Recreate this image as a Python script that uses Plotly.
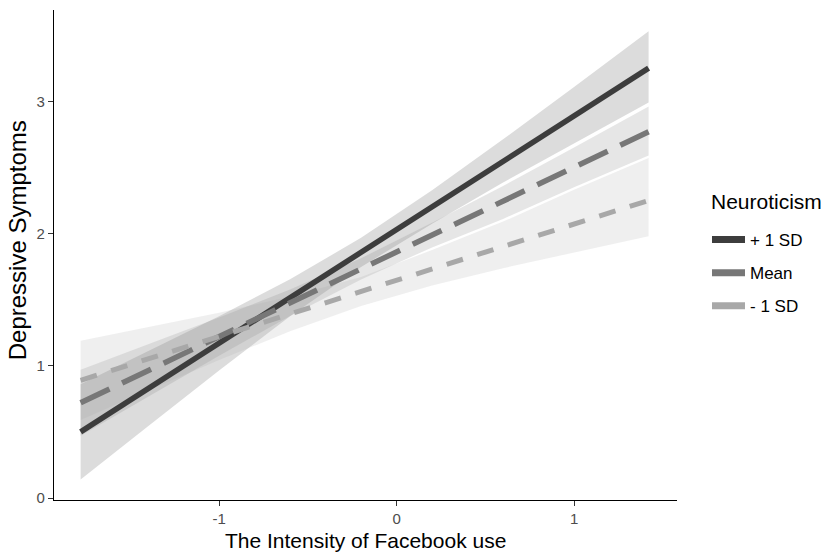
import plotly.graph_objects as go

# ---- data ----
groups = ["+ 1 SD", "Mean", "- 1 SD"]
x_pts = [-1.78, -1.4, -1.0, -0.6, -0.2, 0.2, 0.6, 1.0, 1.42]

fit_hi = [0.50, 0.826, 1.170, 1.514, 1.857, 2.201, 2.544, 2.888, 3.25]
low_hi = [0.14, 0.543, 0.965, 1.374, 1.747, 2.074, 2.385, 2.68, 2.99]
up_hi = [0.86, 1.109, 1.375, 1.654, 1.967, 2.328, 2.712, 3.108, 3.53]

fit_mean = [0.72, 0.964, 1.220, 1.476, 1.733, 1.989, 2.246, 2.502, 2.77]
low_mean = [0.47, 0.767, 1.076, 1.376, 1.653, 1.895, 2.11, 2.35, 2.59]
up_mean = [0.97, 1.161, 1.364, 1.576, 1.813, 2.081, 2.36, 2.65, 2.96]

fit_lo = [0.89, 1.052, 1.222, 1.392, 1.562, 1.732, 1.902, 2.072, 2.25]
low_lo = [0.59, 0.813, 1.043, 1.261, 1.452, 1.606, 1.738, 1.859, 1.98]
up_lo = [1.19, 1.291, 1.401, 1.523, 1.672, 1.875, 2.09, 2.33, 2.57]

x_ticks = [-1, 0, 1]
x_ticktext = ["-1", "0", "1"]
y_ticks = [0, 1, 2, 3]
y_ticktext = ["0", "1", "2", "3"]

x_title = "The Intensity of Facebook use"
y_title = "Depressive Symptoms"
legend_title = "Neuroticism"

# ---- styles ----
line_colors = ["#3d3d3d", "#777777", "#a8a8a8"]
fill_colors = ["rgba(61,61,61,0.18)", "rgba(119,119,119,0.18)", "rgba(168,168,168,0.18)"]
dashes = ["solid", "32px,14px", "17px,15px"]
widths = [5.5, 5.5, 5]

fits = [fit_hi, fit_mean, fit_lo]
lows = [low_hi, low_mean, low_lo]
ups = [up_hi, up_mean, up_lo]

fig = go.Figure()

# ribbons
for i in range(3):
    fig.add_trace(go.Scatter(
        x=x_pts + x_pts[::-1],
        y=ups[i] + lows[i][::-1],
        fill="toself", fillcolor=fill_colors[i],
        line=dict(width=0), mode="lines",
        hoverinfo="skip", showlegend=False,
    ))

# lines
for i in range(3):
    fig.add_trace(go.Scatter(
        x=x_pts, y=fits[i], mode="lines",
        line=dict(color=line_colors[i], width=widths[i], dash=dashes[i]),
        name=groups[i], showlegend=False,
    ))

# legend entries (solid keys)
for i in range(3):
    fig.add_trace(go.Scatter(
        x=[None], y=[None], mode="lines",
        line=dict(color=line_colors[i], width=7),
        name=groups[i], legendgroup=groups[i], showlegend=True,
    ))

font_family = "Liberation Sans, Arial, sans-serif"

fig.update_layout(
    width=825, height=553,
    margin=dict(l=54, r=148, t=10, b=53),
    paper_bgcolor="white", plot_bgcolor="white",
    font=dict(family=font_family, color="#000000"),
    showlegend=True,
    legend=dict(
        font=dict(size=17, color="#000000"),
        xref="container", yref="container",
        x=707 / 825, y=1 - 222 / 553, xanchor="left", yanchor="top",
        tracegroupgap=8, itemwidth=33,
        bgcolor="rgba(0,0,0,0)",
    ),
    xaxis=dict(
        range=[-1.93, 1.58],
        tickvals=x_ticks, ticktext=x_ticktext,
        showgrid=False, zeroline=False, automargin=False,
        showline=True, linecolor="#000000", linewidth=1.3,
        ticks="outside", ticklen=5, tickcolor="#333333", tickwidth=1.2,
        tickfont=dict(size=15, color="#4d4d4d"),
    ),
    yaxis=dict(
        range=[-0.015, 3.69],
        tickvals=y_ticks, ticktext=y_ticktext,
        showgrid=False, zeroline=False, automargin=False,
        showline=True, linecolor="#000000", linewidth=1.3,
        ticks="outside", ticklen=5, tickcolor="#333333", tickwidth=1.2,
        tickfont=dict(size=15, color="#4d4d4d"),
    ),
    annotations=[
        dict(text=x_title, xref="paper", yref="paper", x=0.5, y=0,
             xanchor="center", yanchor="middle", yshift=-40, showarrow=False,
             font=dict(size=21, color="#000000")),
        dict(text=y_title, xref="paper", yref="paper", x=0, y=0.53,
             xanchor="center", yanchor="middle", xshift=-37, textangle=-90,
             showarrow=False, font=dict(size=24, color="#000000")),
        dict(text=legend_title, xref="paper", yref="paper", x=1, y=1,
             xanchor="left", yanchor="middle", xshift=32, yshift=-191,
             showarrow=False, font=dict(size=21, color="#000000")),
    ],
)

fig.write_html("out.html",
               config={"displayModeBar": False},
               post_script="document.body.style.margin='0';document.body.style.overflow='hidden';")
